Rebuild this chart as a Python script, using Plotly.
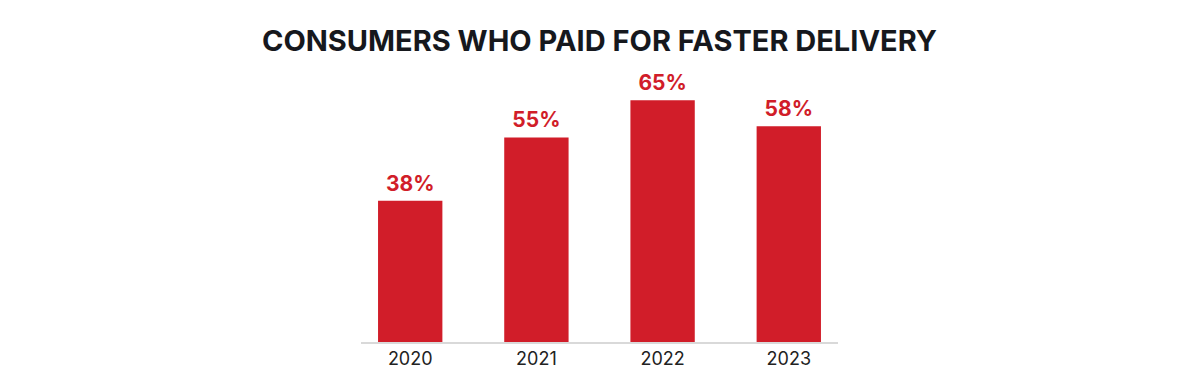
import plotly.graph_objects as go

years = ["2020", "2021", "2022", "2023"]
values = [38, 55, 65, 58]
labels = ["38%", "55%", "65%", "58%"]

red = "#D11D29"

fig = go.Figure()
fig.add_trace(go.Bar(
    x=years, y=values, marker=dict(color=red, line=dict(width=0)),
    width=0.51, hoverinfo="skip",
))
fig.add_trace(go.Scatter(
    x=years, y=values, mode="markers+text",
    text=["<b>" + l + "</b>" for l in labels], textposition="top center",
    marker=dict(size=6, opacity=0, color=red),
    textfont=dict(family="Inter", size=21, color=red),
    hoverinfo="skip", cliponaxis=False,
))

# page body has an 8px default margin, compensated in the margins below
fig.update_layout(
    width=1200, height=392,
    margin=dict(l=353, r=370, t=52, b=58),
    paper_bgcolor="white", plot_bgcolor="white",
    title=dict(text="<b>CONSUMERS WHO PAID FOR FASTER DELIVERY</b>",
               x=0.5, xanchor="center", xref="paper", y=0.916, yanchor="middle",
               font=dict(family="Inter", size=29, color="#16181d")),
    showlegend=False,
    xaxis=dict(range=[-0.39, 3.39], showgrid=False, showline=True,
               linecolor="#d9d9d9", linewidth=1.5, ticks="",
               tickfont=dict(family="Inter", size=18, color="#222222")),
    yaxis=dict(range=[0, 75.8], visible=False, showgrid=False),
    bargap=0.5,
)
fig.write_html("out.html")
